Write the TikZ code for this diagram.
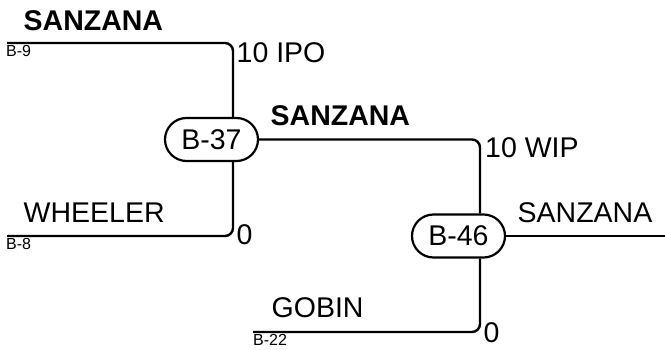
\documentclass[tikz,border=0pt]{standalone}
\usepackage{fontspec}
\setmainfont{Liberation Sans}
\usetikzlibrary{shapes.misc}
\tikzset{
  wire/.style={line width=2.4pt, rounded corners=8pt},
  proc/.style={rounded rectangle, draw, line width=2.2pt, minimum width=93pt, minimum height=43pt, inner sep=0pt, font=\fontsize{28.5}{31}\selectfont},
  lbl/.style={anchor=base west, inner sep=0pt, font=\fontsize{28.5}{31}\selectfont},
  blbl/.style={anchor=base west, inner sep=0pt, font=\fontsize{28.5}{31}\selectfont\bfseries},
  slbl/.style={anchor=base west, inner sep=0pt, font=\fontsize{16}{18}\selectfont},
}
\begin{document}
\begin{tikzpicture}[x=1pt,y=-1pt]
\useasboundingbox (0,0) rectangle (665,350);
\node[proc] (b37) at (211.5,139.5) {B-37};
\node[proc] (b46) at (458.5,236) {B-46};
\coordinate (l9) at (7,43);
\coordinate (l8) at (7,236);
\coordinate (l22) at (253,332);
\coordinate (r46) at (665,236);
\draw[wire] (l9) -| ([xshift=21.5pt]b37.north);
\draw[wire] ([xshift=21.5pt]b37.south) |- (l8);
\draw[wire] (b37.east) -| ([xshift=21.5pt]b46.north);
\draw[wire] (b46.east) -- (r46);
\draw[wire] ([xshift=21.5pt]b46.south) |- (l22);
\node[blbl] (t1) at (23.5,31) {SANZANA};
\node[lbl] (t2) at (236.5,63) {10 IPO};
\node[slbl] (t3) at (6,57) {B-9};
\node[blbl] (t4) at (270.5,126) {SANZANA};
\node[lbl] (t5) at (485,158) {10 WIP};
\node[lbl] (t6) at (517.5,223) {SANZANA};
\node[lbl] (t7) at (23.5,223) {WHEELER};
\node[slbl] (t8) at (6,250) {B-8};
\node[lbl] (t9) at (236.5,245) {0};
\node[lbl] (t10) at (271.5,318) {GOBIN};
\node[slbl] (t11) at (253,345) {B-22};
\node[lbl] (t12) at (483.5,342) {0};
\end{tikzpicture}
\end{document}
